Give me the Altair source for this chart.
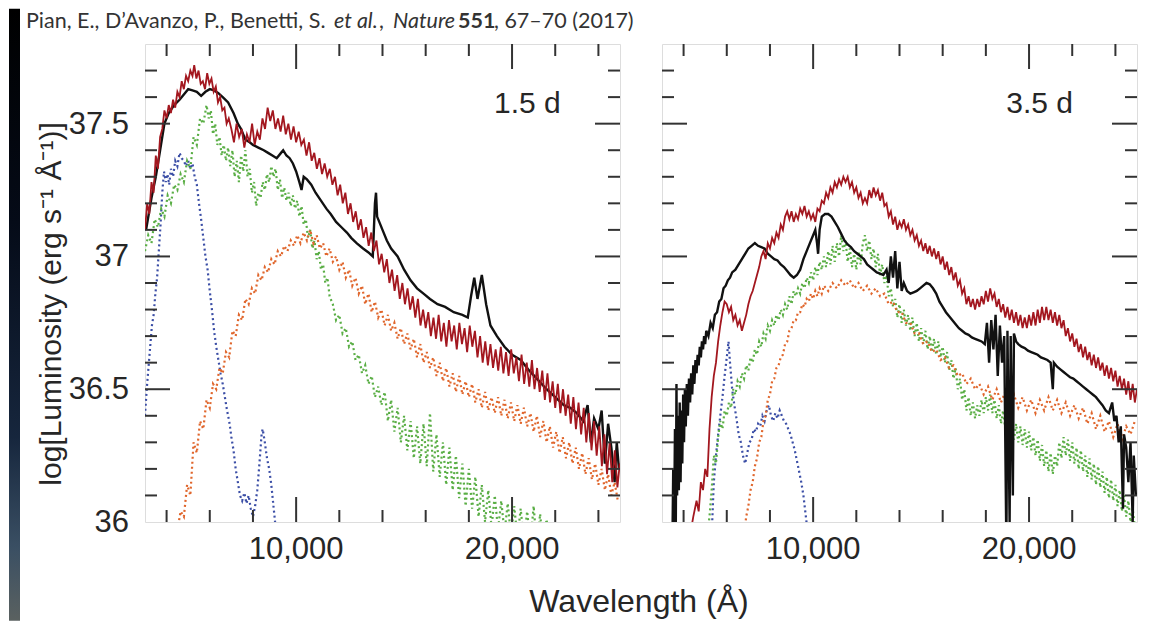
import altair as alt
import pandas as pd

# ---------------- data ----------------
# 1.5 d panel
BLACK_15 = [(3050, 37.10), (3300, 37.22), (3500, 37.30), (3700, 37.40), (3900, 37.50), (4100, 37.54),
            (4350, 37.57), (4600, 37.59), (4800, 37.61), (5000, 37.63), (5200, 37.625), (5400, 37.62),
            (5600, 37.605), (5800, 37.62), (6000, 37.63), (6200, 37.625), (6400, 37.615), (6600, 37.60),
            (6850, 37.58), (7100, 37.54), (7300, 37.50), (7450, 37.48), (7650, 37.44), (7850, 37.43),
            (8000, 37.42), (8250, 37.41), (8500, 37.40), (8700, 37.39), (8900, 37.38), (9100, 37.37),
            (9300, 37.39), (9400, 37.40), (9550, 37.38), (9700, 37.37), (9850, 37.35), (10000, 37.32),
            (10150, 37.28), (10250, 37.25), (10350, 37.30), (10500, 37.29), (10700, 37.27), (10900, 37.24),
            (11150, 37.21), (11400, 37.18), (11600, 37.16), (11850, 37.13), (12100, 37.11), (12350, 37.09),
            (12550, 37.07), (12800, 37.05), (13100, 37.03), (13350, 37.015), (13550, 37.00), (13650, 37.20),
            (13700, 37.24), (13750, 37.15), (13850, 37.13), (14000, 37.10), (14200, 37.06), (14400, 37.03),
            (14700, 37.00), (15000, 36.95), (15300, 36.91), (15600, 36.88), (15900, 36.86), (16200, 36.84),
            (16550, 36.82), (16900, 36.81), (17300, 36.79), (17700, 36.78), (17950, 36.77), (18100, 36.85),
            (18250, 36.92), (18400, 36.84), (18600, 36.93), (18800, 36.82), (19000, 36.74), (19300, 36.70),
            (19650, 36.66), (20000, 36.63), (20400, 36.61), (20800, 36.57), (21200, 36.535), (21600, 36.50),
            (22000, 36.47), (22400, 36.44), (22700, 36.43), (23000, 36.41), (23300, 36.38), (23500, 36.44),
            (23650, 36.30), (23800, 36.39), (24000, 36.35), (24150, 36.42), (24300, 36.22), (24450, 36.37),
            (24600, 36.28), (24750, 36.15), (24850, 36.30), (24950, 36.20)]

RED_15 = [(3000, 37.10), (3100, 37.20), (3200, 37.16), (3300, 37.28), (3400, 37.24), (3500, 37.38),
          (3600, 37.33), (3700, 37.45), (3800, 37.48), (3900, 37.55), (4000, 37.52), (4100, 37.57),
          (4200, 37.54), (4300, 37.59), (4400, 37.56), (4500, 37.62), (4600, 37.60), (4700, 37.66),
          (4800, 37.63), (4900, 37.68), (5000, 37.66), (5100, 37.70), (5200, 37.68), (5280, 37.72),
          (5380, 37.67), (5480, 37.70), (5580, 37.65), (5680, 37.66), (5780, 37.63), (5880, 37.69),
          (5980, 37.65), (6080, 37.67), (6180, 37.62), (6280, 37.64), (6380, 37.58), (6480, 37.60),
          (6580, 37.55), (6680, 37.56), (6780, 37.50), (6880, 37.52), (7000, 37.48), (7120, 37.43),
          (7240, 37.50), (7360, 37.45), (7480, 37.48), (7600, 37.41), (7720, 37.46), (7840, 37.43),
          (7960, 37.50), (8080, 37.42), (8200, 37.47), (8320, 37.44), (8440, 37.52), (8560, 37.48),
          (8680, 37.56), (8800, 37.51), (8920, 37.55), (9040, 37.48), (9160, 37.52), (9280, 37.47),
          (9400, 37.53), (9520, 37.46), (9640, 37.50), (9760, 37.44), (9880, 37.49), (10000, 37.43),
          (10120, 37.47), (10240, 37.42), (10360, 37.44), (10480, 37.38), (10600, 37.43), (10720, 37.36),
          (10840, 37.39), (10960, 37.33), (11080, 37.37), (11200, 37.31), (11320, 37.35), (11440, 37.30),
          (11560, 37.33), (11680, 37.27), (11800, 37.30), (11920, 37.23), (12040, 37.27), (12160, 37.20),
          (12280, 37.24), (12400, 37.16), (12520, 37.20), (12640, 37.13), (12760, 37.17), (12880, 37.10),
          (13000, 37.14), (13120, 37.07), (13240, 37.11), (13360, 37.04), (13480, 37.09), (13600, 37.02),
          (13720, 37.06), (13840, 36.97), (13960, 37.01), (14080, 36.94), (14200, 36.99), (14320, 36.90),
          (14440, 36.95), (14560, 36.87), (14680, 36.93), (14800, 36.84), (14920, 36.90), (15040, 36.82),
          (15160, 36.88), (15280, 36.80), (15400, 36.85), (15520, 36.77), (15640, 36.84), (15760, 36.74),
          (15880, 36.80), (16000, 36.73), (16120, 36.79), (16240, 36.70), (16360, 36.77), (16480, 36.69),
          (16600, 36.78), (16720, 36.68), (16840, 36.75), (16960, 36.66), (17080, 36.76), (17200, 36.68),
          (17320, 36.74), (17440, 36.65), (17560, 36.75), (17680, 36.67), (17800, 36.73), (17920, 36.64),
          (18040, 36.74), (18160, 36.66), (18280, 36.72), (18400, 36.62), (18520, 36.70), (18640, 36.60),
          (18760, 36.68), (18880, 36.59), (19000, 36.67), (19120, 36.58), (19240, 36.65), (19360, 36.57),
          (19480, 36.66), (19600, 36.56), (19720, 36.64), (19840, 36.55), (19960, 36.65), (20080, 36.56),
          (20200, 36.62), (20320, 36.53), (20440, 36.63), (20560, 36.52), (20680, 36.60), (20800, 36.51),
          (20920, 36.61), (21040, 36.50), (21160, 36.58), (21280, 36.49), (21400, 36.57), (21520, 36.46),
          (21640, 36.56), (21760, 36.45), (21880, 36.53), (22000, 36.43), (22120, 36.52), (22240, 36.41),
          (22360, 36.50), (22480, 36.40), (22600, 36.48), (22720, 36.37), (22840, 36.47), (22960, 36.35),
          (23080, 36.45), (23200, 36.33), (23320, 36.43), (23440, 36.30), (23560, 36.41), (23680, 36.27),
          (23800, 36.38), (23920, 36.25), (24040, 36.36), (24160, 36.21), (24280, 36.33), (24400, 36.18),
          (24520, 36.30), (24640, 36.15), (24760, 36.27), (24880, 36.13), (24990, 36.22)]

GREEN_15 = [(3000, 37.02), (3150, 37.08), (3300, 37.05), (3450, 37.14), (3600, 37.11), (3750, 37.18),
            (3900, 37.15), (4050, 37.23), (4200, 37.20), (4350, 37.27), (4500, 37.25), (4650, 37.31),
            (4800, 37.28), (4950, 37.36), (5100, 37.33), (5250, 37.45), (5400, 37.42), (5550, 37.52),
            (5700, 37.50), (5850, 37.57), (5950, 37.52), (6050, 37.55), (6150, 37.46), (6250, 37.50),
            (6350, 37.42), (6450, 37.45), (6550, 37.38), (6650, 37.42), (6750, 37.36), (6850, 37.41),
            (6950, 37.34), (7050, 37.40), (7150, 37.30), (7250, 37.36), (7350, 37.28), (7450, 37.38),
            (7550, 37.32), (7650, 37.40), (7750, 37.30), (7850, 37.33), (7950, 37.24), (8050, 37.28),
            (8150, 37.19), (8250, 37.24), (8350, 37.22), (8450, 37.28), (8550, 37.25), (8650, 37.31),
            (8750, 37.28), (8850, 37.34), (8950, 37.30), (9050, 37.33), (9150, 37.25), (9250, 37.29),
            (9350, 37.22), (9450, 37.26), (9550, 37.21), (9650, 37.24), (9750, 37.19), (9850, 37.23),
            (9950, 37.18), (10050, 37.21), (10150, 37.15), (10250, 37.19), (10350, 37.12), (10450, 37.14),
            (10550, 37.07), (10650, 37.10), (10750, 37.03), (10850, 37.06), (10950, 36.99), (11050, 37.02),
            (11150, 36.95), (11250, 36.97), (11350, 36.90), (11450, 36.92), (11550, 36.85), (11700, 36.82),
            (11850, 36.76), (12000, 36.78), (12150, 36.71), (12300, 36.73), (12450, 36.66), (12600, 36.68),
            (12750, 36.61), (12900, 36.63), (13050, 36.56), (13200, 36.59), (13350, 36.52), (13500, 36.55),
            (13650, 36.47), (13800, 36.51), (13950, 36.44), (14100, 36.49), (14250, 36.38), (14400, 36.46),
            (14550, 36.34), (14700, 36.43), (14850, 36.30), (15000, 36.40), (15150, 36.27), (15300, 36.38),
            (15450, 36.24), (15600, 36.36), (15750, 36.22), (15900, 36.37), (16050, 36.21), (16200, 36.41),
            (16350, 36.19), (16500, 36.33), (16650, 36.17), (16800, 36.30), (16950, 36.14), (17100, 36.28),
            (17250, 36.12), (17400, 36.25), (17550, 36.09), (17700, 36.22), (17850, 36.06), (18000, 36.20),
            (18150, 36.05), (18300, 36.17), (18450, 36.02), (18600, 36.14), (18750, 36.00), (18900, 36.12),
            (19050, 35.98), (19200, 36.10), (19350, 35.97), (19500, 36.08), (19650, 35.96), (19800, 36.07),
            (19950, 35.95), (20100, 36.06), (20250, 35.94), (20400, 36.05), (20550, 35.93), (20700, 36.04),
            (20850, 35.92), (21000, 36.06), (21150, 35.91), (21300, 36.03), (21450, 35.90), (21600, 36.01),
            (21750, 35.89), (21900, 35.99), (22100, 35.88), (22300, 35.97), (22500, 35.87), (22700, 35.93)]

ORANGE_15 = [(4500, 35.97), (4650, 36.04), (4800, 36.02), (4950, 36.14), (5100, 36.10), (5250, 36.30),
             (5400, 36.26), (5550, 36.38), (5700, 36.35), (5850, 36.46), (6000, 36.43), (6150, 36.52),
             (6300, 36.50), (6450, 36.58), (6600, 36.56), (6750, 36.64), (6900, 36.62), (7050, 36.72),
             (7200, 36.70), (7350, 36.78), (7500, 36.76), (7650, 36.84), (7800, 36.82), (7950, 36.88),
             (8100, 36.86), (8250, 36.93), (8400, 36.91), (8550, 36.96), (8700, 36.94), (8850, 36.99),
             (9000, 36.97), (9150, 37.02), (9300, 37.00), (9450, 37.04), (9600, 37.02), (9750, 37.06),
             (9900, 37.04), (10050, 37.08), (10200, 37.05), (10350, 37.09), (10500, 37.06), (10650, 37.10),
             (10800, 37.05), (10950, 37.08), (11100, 37.03), (11250, 37.05), (11400, 37.00), (11550, 37.03),
             (11700, 36.98), (11850, 37.00), (12000, 36.95), (12150, 36.98), (12300, 36.92), (12450, 36.95),
             (12600, 36.89), (12750, 36.92), (12900, 36.86), (13050, 36.89), (13200, 36.82), (13350, 36.86),
             (13500, 36.79), (13650, 36.83), (13800, 36.77), (13950, 36.80), (14100, 36.74), (14250, 36.78),
             (14400, 36.72), (14550, 36.75), (14700, 36.69), (14850, 36.73), (15000, 36.67), (15150, 36.71),
             (15300, 36.65), (15450, 36.69), (15600, 36.62), (15750, 36.67), (15900, 36.60), (16050, 36.64),
             (16200, 36.58), (16350, 36.62), (16500, 36.55), (16650, 36.60), (16800, 36.53), (16950, 36.58),
             (17100, 36.51), (17250, 36.56), (17400, 36.49), (17550, 36.55), (17700, 36.48), (17850, 36.53),
             (18000, 36.47), (18150, 36.52), (18300, 36.45), (18450, 36.50), (18600, 36.43), (18750, 36.49),
             (18900, 36.42), (19050, 36.47), (19200, 36.41), (19350, 36.47), (19500, 36.40), (19650, 36.46),
             (19800, 36.39), (19950, 36.45), (20100, 36.38), (20250, 36.44), (20400, 36.37), (20550, 36.43),
             (20700, 36.36), (20850, 36.41), (21000, 36.34), (21150, 36.40), (21300, 36.32), (21450, 36.38),
             (21600, 36.30), (21750, 36.36), (21900, 36.28), (22050, 36.34), (22200, 36.26), (22350, 36.32),
             (22500, 36.24), (22650, 36.30), (22800, 36.22), (22950, 36.28), (23100, 36.20), (23250, 36.26),
             (23400, 36.18), (23550, 36.24), (23700, 36.16), (23850, 36.22), (24000, 36.14), (24150, 36.20),
             (24300, 36.12), (24450, 36.18), (24600, 36.10), (24750, 36.15), (24900, 36.08)]

BLUE_15 = [(3000, 36.40), (3080, 36.50), (3160, 36.58), (3240, 36.66), (3320, 36.74), (3400, 36.78),
           (3480, 36.86), (3560, 36.92), (3640, 37.02), (3720, 37.12), (3800, 37.24), (3880, 37.32),
           (3960, 37.28), (4040, 37.31), (4120, 37.27), (4200, 37.33), (4300, 37.30), (4400, 37.36),
           (4500, 37.34), (4600, 37.39), (4700, 37.37), (4800, 37.36), (4900, 37.34), (5000, 37.36),
           (5100, 37.33), (5200, 37.35), (5300, 37.30), (5400, 37.27), (5500, 37.20), (5600, 37.14),
           (5700, 37.07), (5800, 37.00), (5900, 36.95), (6000, 36.87), (6100, 36.80), (6200, 36.72),
           (6300, 36.66), (6400, 36.61), (6500, 36.56), (6600, 36.52), (6700, 36.47), (6800, 36.42),
           (6900, 36.38), (7000, 36.32), (7100, 36.27), (7200, 36.20), (7300, 36.15), (7400, 36.10),
           (7500, 36.08), (7600, 36.11), (7700, 36.07), (7800, 36.10), (7900, 36.05), (8000, 36.02),
           (8100, 36.06), (8200, 36.12), (8300, 36.22), (8400, 36.33), (8450, 36.35), (8550, 36.30),
           (8650, 36.24), (8750, 36.20), (8850, 36.14), (8950, 36.06), (9050, 35.98)]

# 3.5 d panel
BLACK_35 = [(3480, 35.90), (3520, 36.20), (3560, 35.95), (3600, 36.35), (3640, 36.00), (3670, 36.52),
            (3700, 36.10), (3740, 36.40), (3780, 36.12), (3820, 36.45), (3860, 36.15), (3900, 36.42),
            (3940, 36.22), (3980, 36.48), (4020, 36.30), (4060, 36.50), (4100, 36.36), (4150, 36.52),
            (4200, 36.40), (4250, 36.54), (4300, 36.45), (4350, 36.56), (4400, 36.48), (4450, 36.59),
            (4500, 36.52), (4550, 36.61), (4600, 36.56), (4650, 36.63), (4700, 36.59), (4750, 36.66),
            (4800, 36.62), (4850, 36.68), (4900, 36.65), (4950, 36.70), (5000, 36.67), (5050, 36.72),
            (5150, 36.70), (5250, 36.75), (5350, 36.73), (5450, 36.78), (5550, 36.79), (5650, 36.83),
            (5750, 36.84), (5850, 36.88), (5950, 36.89), (6050, 36.91), (6150, 36.92), (6250, 36.94),
            (6400, 36.95), (6550, 36.97), (6700, 36.99), (6850, 37.01), (7000, 37.03), (7150, 37.04),
            (7300, 37.05), (7450, 37.04), (7600, 37.035), (7750, 37.03), (7900, 37.01), (8050, 37.00),
            (8200, 36.99), (8350, 36.985), (8500, 36.97), (8650, 36.96), (8800, 36.945), (8950, 36.93),
            (9100, 36.92), (9250, 36.93), (9400, 36.95), (9550, 36.99), (9700, 37.02), (9850, 37.05),
            (10000, 37.08), (10100, 37.10), (10180, 37.05), (10230, 37.01), (10300, 37.10), (10400, 37.15),
            (10550, 37.16), (10700, 37.16), (10850, 37.15), (11000, 37.13), (11150, 37.11), (11300, 37.085),
            (11450, 37.06), (11600, 37.045), (11750, 37.035), (11900, 37.02), (12050, 37.01), (12200, 37.00),
            (12350, 36.99), (12500, 36.97), (12650, 36.96), (12800, 36.95), (12950, 36.94), (13100, 36.935),
            (13250, 36.93), (13400, 36.95), (13500, 36.90), (13600, 37.00), (13700, 36.92), (13800, 37.02),
            (13900, 36.88), (14000, 36.98), (14100, 36.87), (14200, 36.90), (14350, 36.87), (14500, 36.86),
            (14650, 36.865), (14800, 36.87), (14950, 36.88), (15100, 36.89), (15250, 36.90), (15400, 36.895),
            (15550, 36.88), (15700, 36.86), (15850, 36.83), (16000, 36.81), (16150, 36.79), (16300, 36.775),
            (16450, 36.76), (16600, 36.745), (16750, 36.73), (16900, 36.72), (17050, 36.71), (17200, 36.705),
            (17350, 36.695), (17500, 36.69), (17650, 36.685), (17800, 36.68), (17950, 36.67), (18050, 36.75),
            (18150, 36.60), (18250, 36.76), (18350, 36.65), (18450, 36.78), (18550, 36.55), (18650, 36.74),
            (18750, 36.60), (18850, 36.70), (18950, 35.90), (19000, 36.72), (19100, 36.00), (19150, 36.70),
            (19250, 36.10), (19300, 36.71), (19400, 36.68), (19500, 36.67), (19650, 36.66), (19800, 36.655),
            (19950, 36.645), (20100, 36.64), (20250, 36.635), (20400, 36.63), (20550, 36.62), (20700, 36.615),
            (20850, 36.61), (21000, 36.60), (21100, 36.50), (21150, 36.60), (21300, 36.585), (21450, 36.575),
            (21600, 36.565), (21750, 36.555), (21900, 36.545), (22050, 36.54), (22200, 36.53), (22350, 36.52),
            (22500, 36.51), (22650, 36.50), (22800, 36.49), (22950, 36.48), (23100, 36.47), (23250, 36.455),
            (23400, 36.44), (23550, 36.42), (23700, 36.41), (23850, 36.45), (23950, 36.38), (24050, 36.40),
            (24150, 36.30), (24250, 36.36), (24350, 36.05), (24400, 36.33), (24500, 36.28), (24600, 36.15),
            (24700, 36.30), (24800, 36.00), (24850, 36.25), (24950, 36.10)]

RED_35 = [(4300, 35.95), (4450, 36.02), (4600, 36.08), (4700, 36.04), (4800, 36.15), (4900, 36.12),
          (5000, 36.20), (5100, 36.17), (5200, 36.35), (5300, 36.47), (5400, 36.55), (5500, 36.60),
          (5600, 36.68), (5700, 36.74), (5800, 36.79), (5900, 36.83), (6000, 36.82), (6100, 36.79),
          (6200, 36.81), (6300, 36.76), (6400, 36.78), (6500, 36.74), (6600, 36.76), (6700, 36.72),
          (6800, 36.75), (6900, 36.78), (7000, 36.82), (7100, 36.85), (7200, 36.87), (7300, 36.90),
          (7400, 36.93), (7500, 36.96), (7600, 37.00), (7700, 37.02), (7800, 36.99), (7900, 37.05),
          (8000, 37.03), (8100, 37.07), (8200, 37.05), (8300, 37.09), (8400, 37.07), (8500, 37.12),
          (8600, 37.10), (8700, 37.15), (8800, 37.17), (8900, 37.14), (9000, 37.17), (9100, 37.13),
          (9200, 37.16), (9300, 37.14), (9400, 37.18), (9500, 37.16), (9600, 37.19), (9700, 37.15),
          (9800, 37.17), (9900, 37.14), (10000, 37.16), (10100, 37.13), (10200, 37.18), (10300, 37.17),
          (10400, 37.21), (10500, 37.20), (10600, 37.24), (10700, 37.22), (10800, 37.26), (10900, 37.24),
          (11000, 37.28), (11100, 37.26), (11200, 37.29), (11300, 37.27), (11400, 37.30), (11500, 37.28),
          (11600, 37.30), (11700, 37.26), (11800, 37.28), (11900, 37.24), (12000, 37.26), (12100, 37.22),
          (12200, 37.24), (12300, 37.20), (12400, 37.22), (12500, 37.20), (12600, 37.25), (12700, 37.22),
          (12800, 37.26), (12900, 37.23), (13000, 37.25), (13100, 37.21), (13200, 37.24), (13300, 37.19),
          (13400, 37.20), (13500, 37.15), (13600, 37.17), (13700, 37.12), (13800, 37.15), (13900, 37.10),
          (14000, 37.13), (14100, 37.11), (14200, 37.14), (14300, 37.10), (14400, 37.12), (14500, 37.08),
          (14600, 37.10), (14700, 37.06), (14800, 37.08), (14900, 37.04), (15000, 37.06), (15100, 37.02),
          (15200, 37.05), (15300, 37.01), (15400, 37.04), (15500, 37.00), (15600, 37.03), (15700, 36.99),
          (15800, 37.02), (15900, 36.97), (16000, 37.00), (16100, 36.95), (16200, 36.98), (16300, 36.93),
          (16400, 36.96), (16500, 36.91), (16600, 36.94), (16700, 36.89), (16800, 36.91), (16900, 36.86),
          (17000, 36.88), (17100, 36.82), (17200, 36.85), (17300, 36.81), (17400, 36.84), (17500, 36.80),
          (17600, 36.84), (17700, 36.81), (17800, 36.85), (17900, 36.82), (18000, 36.87), (18100, 36.83),
          (18200, 36.88), (18300, 36.84), (18400, 36.86), (18500, 36.81), (18600, 36.84), (18700, 36.79),
          (18800, 36.82), (18900, 36.77), (19000, 36.81), (19100, 36.76), (19200, 36.80), (19300, 36.75),
          (19400, 36.79), (19500, 36.74), (19600, 36.78), (19700, 36.73), (19800, 36.77), (19900, 36.73),
          (20000, 36.78), (20100, 36.74), (20200, 36.79), (20300, 36.74), (20400, 36.80), (20500, 36.75),
          (20600, 36.81), (20700, 36.76), (20800, 36.81), (20900, 36.76), (21000, 36.80), (21100, 36.75),
          (21200, 36.79), (21300, 36.74), (21400, 36.78), (21500, 36.73), (21600, 36.76), (21700, 36.70),
          (21800, 36.73), (21900, 36.68), (22000, 36.71), (22100, 36.66), (22200, 36.69), (22300, 36.64),
          (22400, 36.67), (22500, 36.62), (22600, 36.66), (22700, 36.61), (22800, 36.64), (22900, 36.59),
          (23000, 36.63), (23100, 36.58), (23200, 36.62), (23300, 36.57), (23400, 36.60), (23500, 36.55),
          (23600, 36.59), (23700, 36.54), (23800, 36.58), (23900, 36.53), (24000, 36.57), (24100, 36.51),
          (24200, 36.55), (24300, 36.50), (24400, 36.54), (24500, 36.48), (24600, 36.53), (24700, 36.46),
          (24800, 36.52), (24900, 36.45), (25000, 36.50)]

GREEN_35 = [(5100, 35.95), (5200, 36.02), (5300, 36.12), (5400, 36.25), (5500, 36.22), (5600, 36.32),
            (5700, 36.38), (5800, 36.35), (5900, 36.42), (6000, 36.40), (6100, 36.45), (6200, 36.43),
            (6300, 36.50), (6400, 36.48), (6500, 36.53), (6600, 36.51), (6700, 36.56), (6800, 36.54),
            (6900, 36.59), (7000, 36.57), (7100, 36.62), (7200, 36.60), (7300, 36.65), (7400, 36.63),
            (7500, 36.68), (7600, 36.66), (7700, 36.71), (7800, 36.69), (7900, 36.74), (8000, 36.72),
            (8100, 36.76), (8200, 36.74), (8300, 36.78), (8400, 36.76), (8500, 36.80), (8600, 36.78),
            (8700, 36.82), (8800, 36.80), (8900, 36.85), (9000, 36.82), (9100, 36.87), (9200, 36.85),
            (9300, 36.88), (9400, 36.86), (9500, 36.90), (9600, 36.88), (9700, 36.92), (9800, 36.90),
            (9900, 36.94), (10000, 36.91), (10100, 36.96), (10200, 36.93), (10300, 36.98), (10400, 36.95),
            (10500, 37.00), (10600, 36.96), (10700, 37.02), (10800, 36.97), (10900, 37.04), (11000, 36.98),
            (11100, 37.05), (11200, 37.00), (11300, 37.08), (11400, 37.02), (11500, 37.06), (11600, 36.98),
            (11700, 37.03), (11800, 36.96), (11900, 37.01), (12000, 36.95), (12100, 37.02), (12200, 36.97),
            (12300, 37.05), (12400, 37.08), (12500, 37.02), (12600, 37.06), (12700, 36.99), (12800, 37.03),
            (12900, 36.96), (13000, 37.01), (13100, 36.93), (13200, 36.97), (13300, 36.90), (13400, 36.93),
            (13500, 36.85), (13600, 36.88), (13700, 36.81), (13800, 36.84), (13900, 36.77), (14000, 36.82),
            (14100, 36.75), (14200, 36.80), (14300, 36.74), (14400, 36.78), (14500, 36.72), (14600, 36.77),
            (14700, 36.70), (14800, 36.75), (14900, 36.68), (15000, 36.73), (15100, 36.67), (15200, 36.72),
            (15300, 36.65), (15400, 36.70), (15500, 36.64), (15600, 36.69), (15700, 36.63), (15800, 36.68),
            (15900, 36.62), (16000, 36.66), (16100, 36.60), (16200, 36.64), (16300, 36.57), (16400, 36.61),
            (16500, 36.54), (16600, 36.58), (16700, 36.50), (16800, 36.54), (16900, 36.46), (17000, 36.50),
            (17100, 36.42), (17200, 36.47), (17300, 36.40), (17400, 36.45), (17500, 36.39), (17600, 36.44),
            (17700, 36.40), (17800, 36.46), (17900, 36.41), (18000, 36.47), (18100, 36.42), (18200, 36.48),
            (18300, 36.41), (18400, 36.46), (18500, 36.39), (18600, 36.44), (18700, 36.37), (18800, 36.42),
            (18900, 36.35), (19000, 36.40), (19100, 36.33), (19200, 36.38), (19300, 36.31), (19400, 36.37),
            (19500, 36.30), (19600, 36.36), (19700, 36.29), (19800, 36.35), (19900, 36.28), (20000, 36.34),
            (20100, 36.27), (20200, 36.32), (20300, 36.25), (20400, 36.31), (20500, 36.23), (20600, 36.29),
            (20700, 36.21), (20800, 36.27), (20900, 36.19), (21000, 36.26), (21100, 36.18), (21200, 36.25),
            (21300, 36.21), (21400, 36.30), (21500, 36.24), (21600, 36.32), (21700, 36.25), (21800, 36.31),
            (21900, 36.23), (22000, 36.30), (22100, 36.22), (22200, 36.28), (22300, 36.20), (22400, 36.27),
            (22500, 36.19), (22600, 36.25), (22700, 36.17), (22800, 36.24), (22900, 36.16), (23000, 36.22),
            (23100, 36.14), (23200, 36.21), (23300, 36.13), (23400, 36.19), (23500, 36.11), (23600, 36.17),
            (23700, 36.09), (23800, 36.16), (23900, 36.08), (24000, 36.14), (24100, 36.06), (24200, 36.12),
            (24300, 36.04), (24400, 36.10), (24500, 36.02), (24600, 36.08), (24700, 36.00), (24800, 36.05),
            (24900, 35.98)]

ORANGE_35 = [(6800, 35.95), (6900, 36.02), (7000, 36.06), (7100, 36.12), (7200, 36.15), (7300, 36.21),
             (7400, 36.24), (7500, 36.30), (7600, 36.32), (7700, 36.38), (7800, 36.40), (7900, 36.46),
             (8000, 36.48), (8100, 36.53), (8200, 36.54), (8300, 36.58), (8400, 36.59), (8500, 36.62),
             (8600, 36.63), (8700, 36.67), (8800, 36.68), (8900, 36.72), (9000, 36.73), (9100, 36.76),
             (9200, 36.76), (9300, 36.79), (9400, 36.79), (9500, 36.82), (9600, 36.81), (9700, 36.84),
             (9800, 36.83), (9900, 36.86), (10000, 36.84), (10100, 36.87), (10200, 36.85), (10300, 36.88),
             (10400, 36.86), (10500, 36.89), (10700, 36.87), (10900, 36.90), (11100, 36.88), (11300, 36.91),
             (11500, 36.89), (11700, 36.91), (11900, 36.88), (12100, 36.90), (12300, 36.87), (12500, 36.89),
             (12700, 36.86), (12900, 36.88), (13100, 36.85), (13300, 36.86), (13500, 36.82), (13700, 36.83),
             (13900, 36.79), (14100, 36.79), (14300, 36.75), (14500, 36.75), (14700, 36.71), (14900, 36.71),
             (15100, 36.67), (15300, 36.68), (15500, 36.64), (15700, 36.65), (15900, 36.61), (16100, 36.62),
             (16300, 36.58), (16500, 36.59), (16700, 36.55), (16900, 36.56), (17100, 36.52), (17300, 36.54),
             (17500, 36.50), (17700, 36.52), (17900, 36.48), (18100, 36.51), (18300, 36.46), (18500, 36.50),
             (18700, 36.45), (18900, 36.49), (19100, 36.44), (19300, 36.48), (19500, 36.43), (19700, 36.47),
             (19900, 36.42), (20100, 36.46), (20300, 36.41), (20500, 36.46), (20700, 36.42), (20900, 36.47),
             (21100, 36.42), (21300, 36.46), (21500, 36.41), (21700, 36.45), (21900, 36.40), (22100, 36.44),
             (22300, 36.39), (22500, 36.43), (22700, 36.37), (22900, 36.41), (23100, 36.35), (23300, 36.40),
             (23500, 36.34), (23700, 36.38), (23900, 36.32), (24100, 36.37), (24300, 36.31), (24500, 36.36),
             (24700, 36.33), (24900, 36.38)]

BLUE_35 = [(5300, 35.95), (5400, 36.15), (5500, 36.25), (5600, 36.33), (5700, 36.40), (5800, 36.47),
           (5900, 36.55), (6000, 36.62), (6080, 36.68), (6150, 36.60), (6250, 36.50), (6350, 36.44),
           (6450, 36.39), (6550, 36.33), (6650, 36.30), (6750, 36.25), (6850, 36.22), (6950, 36.26),
           (7050, 36.30), (7150, 36.31), (7250, 36.35), (7350, 36.34), (7450, 36.37), (7550, 36.36),
           (7650, 36.40), (7750, 36.38), (7850, 36.42), (7950, 36.44), (8050, 36.40), (8150, 36.38),
           (8250, 36.41), (8350, 36.39), (8450, 36.42), (8550, 36.40), (8650, 36.38), (8750, 36.37),
           (8850, 36.35), (8950, 36.33), (9050, 36.30), (9150, 36.27), (9250, 36.23), (9350, 36.19),
           (9450, 36.15), (9550, 36.10), (9650, 36.03), (9750, 35.96)]

# axis ticks / labels
X_DOMAIN = [3000, 25000]
Y_DOMAIN = [36.0, 37.8]
X_LABELS = [10000, 20000]
X_LABEL_TEXT = ["10,000", "20,000"]
Y_LABELS = [36.0, 36.5, 37.0, 37.5]
Y_LABEL_TEXT = ["36", "36.5", "37", "37.5"]
X_MINOR = [4000, 6000, 8000, 12000, 14000, 16000, 18000, 22000, 24000]
X_MAJOR = [10000, 20000]
Y_MINOR = [36.1, 36.2, 36.3, 36.4, 36.6, 36.7, 36.8, 36.9, 37.1, 37.2, 37.3, 37.4, 37.6, 37.7]
Y_MAJOR = [36.5, 37.0, 37.5]
PANEL_LABELS = ["1.5 d", "3.5 d"]
CITE_PARTS = ["Pian, E., D\u2019Avanzo, P., Benetti, S.", "et al.", ",", "Nature", "551", ", 67\u201370 (2017)"]
Y_TITLE = "log[Luminosity (erg s\u207b\u00b9 \u00c5\u207b\u00b9)]"
X_TITLE = "Wavelength (\u00c5)"

# ---------------- styling ----------------
W, H = 475, 478
MAJ, MIN = 25, 12
FONT = "Liberation Sans"
AX = "#333333"
TXT = "#262626"
COL = {"black": "#111111", "red": "#a3171f", "green": "#5aae45", "orange": "#e0662c", "blue": "#3b4ea6"}

xscale = alt.Scale(domain=X_DOMAIN, nice=False, zero=False)
yscale = alt.Scale(domain=Y_DOMAIN, nice=False, zero=False)


def frame(pairs):
    return pd.DataFrame(pairs, columns=["lam", "lum"])


def series(pairs, color, width, dash=None):
    kw = dict(color=color, strokeWidth=width, clip=True, strokeJoin="miter")
    if dash:
        kw["strokeDash"] = dash
    return alt.Chart(frame(pairs)).mark_line(**kw).encode(
        x=alt.X("lam:Q", scale=xscale, axis=None),
        y=alt.Y("lum:Q", scale=yscale, axis=None),
        order="lam:Q",
    )


def tick_layers():
    layers = []
    for vals, L in ((X_MINOR, MIN), (X_MAJOR, MAJ)):
        d = pd.DataFrame({"v": vals})
        layers.append(alt.Chart(d).mark_rule(color=AX, strokeWidth=2).encode(
            x=alt.X("v:Q", scale=xscale, axis=None), y=alt.value(0), y2=alt.value(L)))
        layers.append(alt.Chart(d).mark_rule(color=AX, strokeWidth=2).encode(
            x=alt.X("v:Q", scale=xscale, axis=None), y=alt.value(H - L), y2=alt.value(H)))
    for vals, L in ((Y_MINOR, MIN), (Y_MAJOR, MAJ)):
        d = pd.DataFrame({"v": vals})
        layers.append(alt.Chart(d).mark_rule(color=AX, strokeWidth=2).encode(
            y=alt.Y("v:Q", scale=yscale, axis=None), x=alt.value(0), x2=alt.value(L)))
        layers.append(alt.Chart(d).mark_rule(color=AX, strokeWidth=2).encode(
            y=alt.Y("v:Q", scale=yscale, axis=None), x=alt.value(W - L), x2=alt.value(W)))
    return layers


def tick_label_layers(left):
    layers = [alt.Chart(pd.DataFrame({"v": X_LABELS, "t": X_LABEL_TEXT})).mark_text(
        font=FONT, fontSize=31, color=TXT, align="center", baseline="top").encode(
        x=alt.X("v:Q", scale=xscale, axis=None), y=alt.value(H + 13), text="t:N")]
    if left:
        layers.append(alt.Chart(pd.DataFrame({"v": Y_LABELS, "t": Y_LABEL_TEXT})).mark_text(
            font=FONT, fontSize=31, color=TXT, align="right", baseline="middle", dy=1).encode(
            y=alt.Y("v:Q", scale=yscale, axis=None), x=alt.value(-16), text="t:N"))
    return layers


def text_at(txt, x, y, size, **kw):
    return alt.Chart(pd.DataFrame({"t": [txt]})).mark_text(fontSize=size, **kw).encode(
        x=alt.value(x), y=alt.value(y), text="t:N")


def panel(black, red, green, orange, blue, label, label_x, left):
    layers = [
        series(blue, COL["blue"], 2.2, [2, 3]),
        series(green, COL["green"], 2.2, [2, 3]),
        series(orange, COL["orange"], 2.2, [2, 3]),
        series(black, COL["black"], 2.4),
        series(red, COL["red"], 1.8),
    ]
    layers += tick_layers()
    layers += tick_label_layers(left)
    layers.append(text_at(label, label_x, 68.7, 30, font=FONT, color=TXT, align="left", baseline="alphabetic"))
    if left:
        # page strip on the far left (part of the slide background)
        strip = alt.Chart(pd.DataFrame({"a": [0]})).mark_rect(
            color=alt.LinearGradient(gradient="linear", x1=0, y1=0, x2=0, y2=1, stops=[
                alt.GradientStop(color="#000000", offset=0),
                alt.GradientStop(color="#050b18", offset=0.35),
                alt.GradientStop(color="#16263d", offset=0.7),
                alt.GradientStop(color="#3a4f63", offset=0.88),
                alt.GradientStop(color="#5a6160", offset=1)])
        ).encode(x=alt.value(-136), x2=alt.value(-125), y=alt.value(-35.3), y2=alt.value(576.7))
        layers.append(strip)
        layers.append(text_at(Y_TITLE, -93, 260, 30, font=FONT, color=TXT, angle=270,
                              align="center", baseline="middle"))
        layers.append(text_at(X_TITLE, 494, 567.5, 32, font=FONT, color=TXT,
                              align="center", baseline="alphabetic"))
        cite = dict(font="Lato", color="#333", baseline="alphabetic", align="left")
        cy, fs = -15.8, 21.5
        layers.append(text_at(CITE_PARTS[0], -119, cy, fs, **cite))
        layers.append(text_at(CITE_PARTS[1], 189, cy, fs, fontStyle="italic", **cite))
        layers.append(text_at(CITE_PARTS[2], 234, cy, fs, **cite))
        layers.append(text_at(CITE_PARTS[3], 248, cy, fs, fontStyle="italic", **cite))
        layers.append(text_at(CITE_PARTS[4], 313, cy, fs, fontWeight="bold", **cite))
        layers.append(text_at(CITE_PARTS[5], 349, cy, fs, **cite))
    return alt.layer(*layers).properties(width=W, height=H)


left = panel(BLACK_15, RED_15, GREEN_15, ORANGE_15, BLUE_15, PANEL_LABELS[0], 349, True)
right = panel(BLACK_35, RED_35, GREEN_35, ORANGE_35, BLUE_35, PANEL_LABELS[1], 344.3, False)

chart = alt.hconcat(left, right, spacing=42, bounds="flush").properties(
    padding=0, background="white"
).configure_view(stroke=AX, strokeWidth=2).configure(font=FONT)

chart.save("out.html", embed_options={"renderer": "svg", "actions": False})
